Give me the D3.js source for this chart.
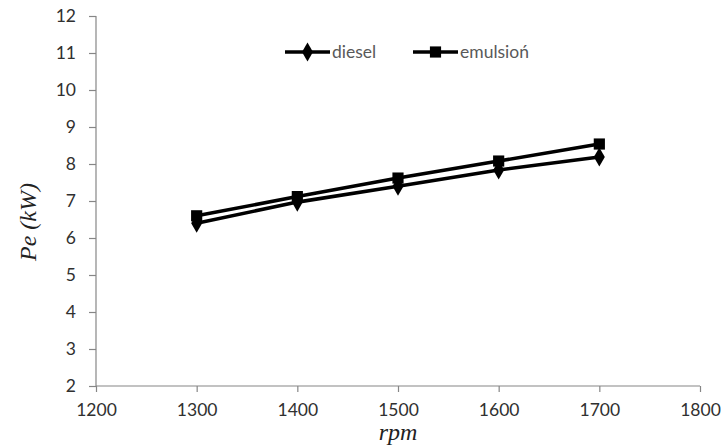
<!DOCTYPE html>
<html>
<head>
<meta charset="utf-8">
<script src="https://cdn.jsdelivr.net/npm/d3@7"></script>
<style>
  html, body { margin: 0; padding: 0; background: #fff; }
  svg { display: block; }
</style>
</head>
<body>
<svg id="chart" width="723" height="446"></svg>
<script>
// Engine speed (rpm) and effective power (kW)
const rpm = [1300, 1400, 1500, 1600, 1700];
const diesel = [6.40, 6.97, 7.40, 7.84, 8.19];
const emulsion = [6.60, 7.12, 7.62, 8.08, 8.54];
const xTicks = [1200, 1300, 1400, 1500, 1600, 1700, 1800];
const yTicks = [2, 3, 4, 5, 6, 7, 8, 9, 10, 11, 12];
const seriesNames = ["diesel", "emulsioń"];

(function () {
  const svg = d3.select("#chart");
  const plotLeft = 96, plotRight = 700, plotTop = 16, plotBottom = 386;

  const x = d3.scaleLinear().domain([1200, 1800]).range([plotLeft, plotRight]);
  const y = d3.scaleLinear().domain([2, 12]).range([plotBottom, plotTop]);

  const axisColor = "#868686";
  const textColor = "#303030";
  const tickFont = "Lato, 'Open Sans', sans-serif";

  // y axis
  const yAxis = svg.append("g")
    .attr("transform", `translate(${plotLeft},0)`)
    .call(d3.axisLeft(y).tickValues(yTicks).tickSize(7).tickPadding(13).tickFormat(d3.format("d")));
  // x axis
  const xAxis = svg.append("g")
    .attr("transform", `translate(0,${plotBottom})`)
    .call(d3.axisBottom(x).tickValues(xTicks).tickSize(6).tickPadding(12).tickFormat(d3.format("d")));

  [xAxis, yAxis].forEach(g => {
    g.select(".domain").attr("stroke", axisColor).attr("stroke-width", 1.2);
    g.selectAll(".tick line").attr("stroke", axisColor).attr("stroke-width", 1.2);
    g.selectAll(".tick text")
      .attr("fill", textColor)
      .style("font-family", tickFont)
      .style("font-size", "17.5px");
  });
  // plain axis lines without end caps
  yAxis.select(".domain").attr("d", `M0,${plotTop}V${plotBottom}`);
  xAxis.select(".domain").attr("d", `M${plotLeft},0H${plotRight}`);

  // axis titles
  svg.append("text")
    .attr("x", 398).attr("y", 440)
    .attr("text-anchor", "middle")
    .style("font-family", "'Liberation Serif', 'DejaVu Serif', serif")
    .style("font-style", "italic")
    .style("font-size", "24px")
    .attr("fill", "#222")
    .text("rpm");

  svg.append("text")
    .attr("transform", "translate(36,222) rotate(-90)")
    .attr("text-anchor", "middle")
    .style("font-family", "'Liberation Serif', 'DejaVu Serif', serif")
    .style("font-style", "italic")
    .style("font-size", "24px")
    .attr("fill", "#222")
    .text("Pe (kW)");

  const line = d3.line().x((d, i) => x(rpm[i])).y(d => y(d));
  const diamond = d3.symbol().type(d3.symbolDiamond).size(105);
  const square = d3.symbol().type(d3.symbolSquare).size(125);

  function drawSeries(values, sym) {
    const g = svg.append("g");
    g.append("path")
      .datum(values)
      .attr("d", line)
      .attr("fill", "none")
      .attr("stroke", "#000")
      .attr("stroke-width", 3.6);
    g.selectAll("path.m")
      .data(values)
      .join("path")
      .attr("class", "m")
      .attr("transform", (d, i) => `translate(${x(rpm[i])},${y(d)})`)
      .attr("d", sym)
      .attr("fill", "#000");
  }
  drawSeries(diesel, diamond);
  drawSeries(emulsion, square);

  // legend
  const legend = [
    { name: seriesNames[0], sym: diamond, x0: 285 },
    { name: seriesNames[1], sym: square, x0: 413 }
  ];
  const ly = 52;
  legend.forEach(l => {
    const g = svg.append("g");
    g.append("line")
      .attr("x1", l.x0).attr("x2", l.x0 + 45)
      .attr("y1", ly).attr("y2", ly)
      .attr("stroke", "#000").attr("stroke-width", 3.6);
    g.append("path")
      .attr("transform", `translate(${l.x0 + 22.5},${ly})`)
      .attr("d", l.sym)
      .attr("fill", "#000");
    g.append("text")
      .attr("x", l.x0 + 47).attr("y", ly + 6)
      .attr("fill", "#595959")
      .style("font-family", tickFont)
      .style("font-size", "17.5px")
      .text(l.name);
  });
})();
</script>
</body>
</html>
